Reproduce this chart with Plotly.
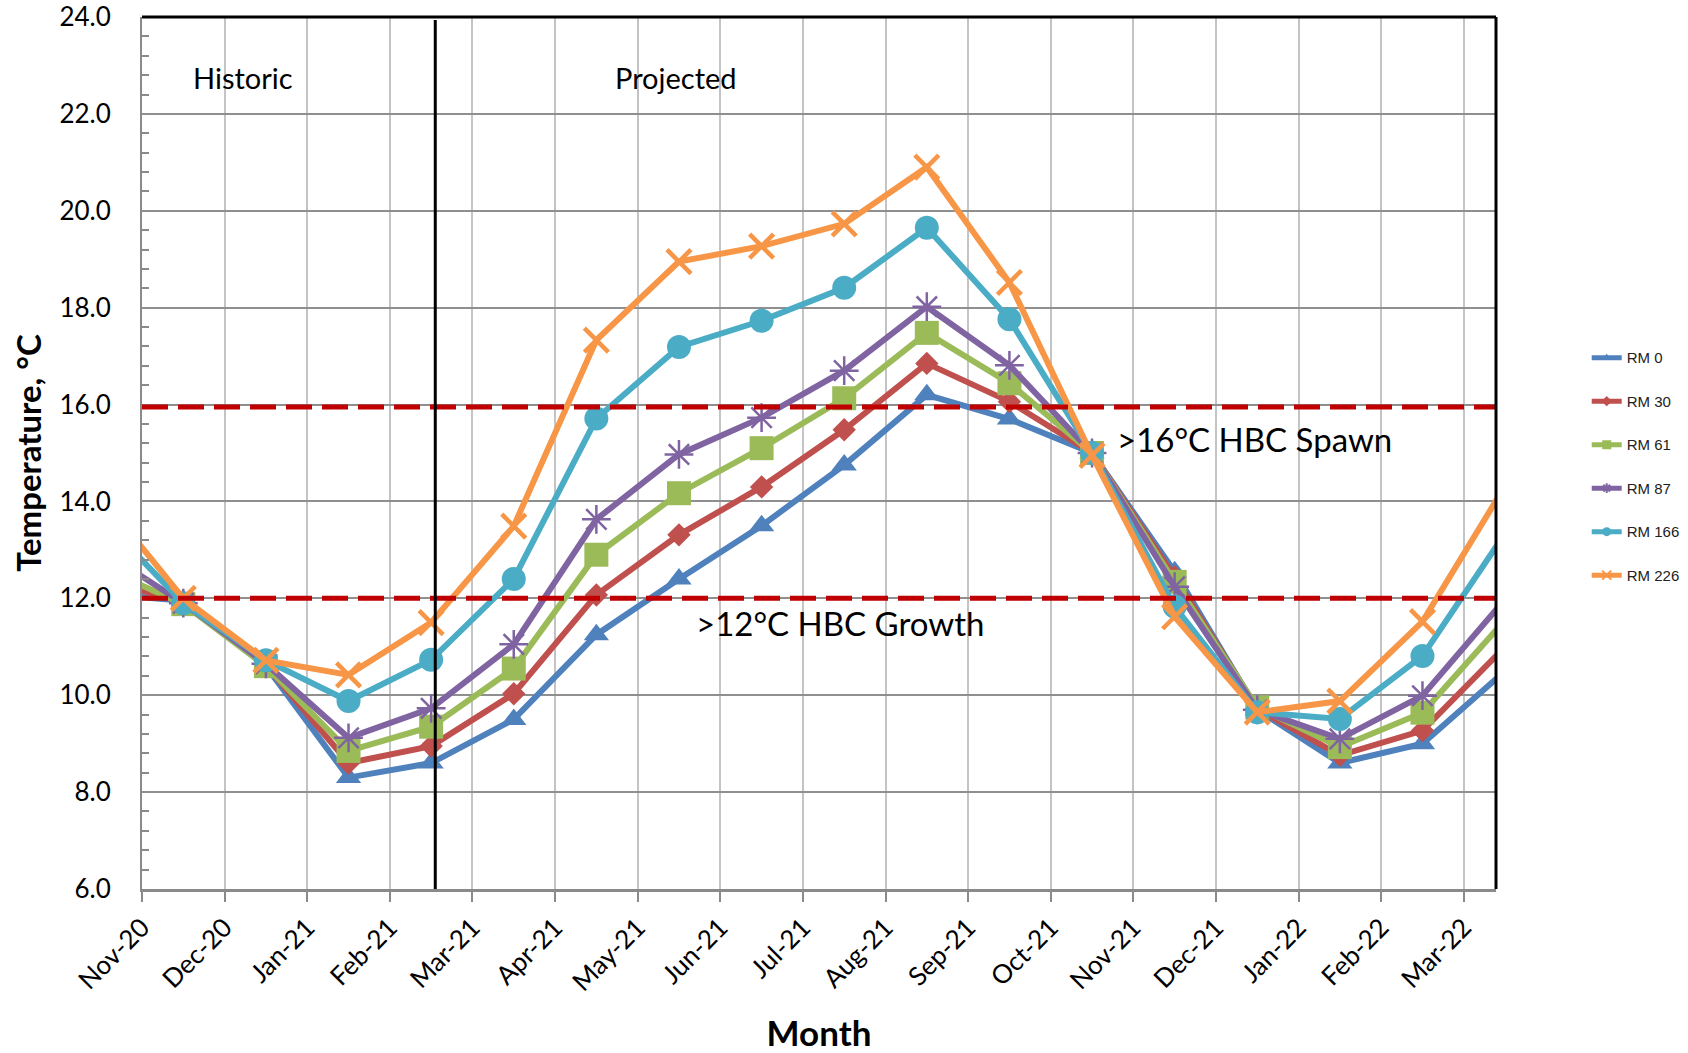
import plotly.graph_objects as go

# ---- data ----
tick_labels = ["Nov-20", "Dec-20", "Jan-21", "Feb-21", "Mar-21", "Apr-21", "May-21", "Jun-21",
               "Jul-21", "Aug-21", "Sep-21", "Oct-21", "Nov-21", "Dec-21", "Jan-22", "Feb-22", "Mar-22"]
point_months = ["Oct-20"] + tick_labels  # monthly mid-point values

rm0 = [12.1, 11.95, 10.6, 8.3, 8.6, 9.5, 11.25, 12.4, 13.5, 14.75, 16.2, 15.7, 15.0, 12.55, 9.7, 8.6, 9.0, 10.5]
rm30 = [12.4, 11.92, 10.62, 8.6, 8.95, 10.03, 12.07, 13.31, 14.3, 15.48, 16.85, 16.06, 15.0, 12.44, 9.72, 8.76, 9.27, 11.0]
rm61 = [12.65, 11.88, 10.6, 8.85, 9.35, 10.55, 12.9, 14.17, 15.1, 16.13, 17.48, 16.44, 15.0, 12.34, 9.75, 8.93, 9.64, 11.55]
rm87 = [13.0, 11.9, 10.65, 9.12, 9.73, 11.05, 13.63, 14.97, 15.73, 16.7, 18.02, 16.81, 15.0, 12.24, 9.7, 9.1, 9.99, 11.98]
rm166 = [13.68, 11.9, 10.72, 9.88, 10.73, 12.4, 15.71, 17.19, 17.73, 18.41, 19.65, 17.76, 15.0, 11.83, 9.65, 9.51, 10.81, 13.34]
rm226 = [14.1, 12.0, 10.72, 10.42, 11.5, 13.49, 17.33, 18.95, 19.27, 19.73, 20.9, 18.52, 14.95, 11.62, 9.65, 9.88, 11.52, 14.32]

series_names = ["RM 0", "RM 30", "RM 61", "RM 87", "RM 166", "RM 226"]
series_values = [rm0, rm30, rm61, rm87, rm166, rm226]

spawn_threshold = 15.95
growth_threshold = 12.0
divider_month = 3.55  # boundary between historic and projected (mid Feb-21)

# ---- styles ----
colors = ["#4F81BD", "#C0504D", "#9BBB59", "#8064A2", "#4BACC6", "#F79646"]
symbols = ["triangle-up", "diamond", "square", "asterisk-open", "circle", "x-thin-open"]
sizes = [22, 18, 24, 24, 24, 24]
FONT = "Lato"

x_min, x_max = 0, 16.39

# x positions: each month value sits at the middle of its month slot
x_pos = [i - 0.5 for i in range(len(point_months))]

fig = go.Figure()
for name, vals, c, sym, sz in zip(series_names, series_values, colors, symbols, sizes):
    mline = dict(width=0)
    if sym == "asterisk-open":
        mline = dict(width=2.5, color=c)
    if sym == "x-thin-open":
        mline = dict(width=4.5, color=c)
    # hide markers of points that lie outside the visible axis range (only their lines show)
    msize = [sz if x_min <= xp <= x_max else 0 for xp in x_pos]
    fig.add_trace(go.Scatter(
        x=x_pos, y=vals, mode="lines+markers", name=name, showlegend=False,
        line=dict(color=c, width=6),
        marker=dict(symbol=sym, size=msize, color=c, line=mline, opacity=1),
        cliponaxis=True,
        customdata=point_months,
        hovertemplate="%{customdata}: %{y:.1f}°C<extra>" + name + "</extra>",
    ))

# legend entries (small markers like the original)
leg_sizes = [8, 8, 9, 8, 9, 9]
for i, (name, c, sym) in enumerate(zip(series_names, colors, symbols)):
    mline = dict(width=0)
    if sym == "asterisk-open":
        mline = dict(width=2, color=c)
    if sym == "x-thin-open":
        mline = dict(width=2, color=c)
    fig.add_trace(go.Scatter(
        x=[None], y=[None], mode="lines+markers", name=name, legendgroup=f"g{i}",
        line=dict(color=c, width=5),
        marker=dict(symbol=sym, size=leg_sizes[i], color=c, line=mline, opacity=1),
    ))

shapes = [
    # threshold lines
    dict(type="line", xref="paper", x0=0, x1=1, yref="y", y0=spawn_threshold, y1=spawn_threshold,
         line=dict(color="#C00000", width=5, dash="26px,10px"), layer="above"),
    dict(type="line", xref="paper", x0=0, x1=1, yref="y", y0=growth_threshold, y1=growth_threshold,
         line=dict(color="#C00000", width=5, dash="26px,10px"), layer="above"),
    # historic / projected divider
    dict(type="line", xref="x", x0=divider_month, x1=divider_month, yref="y", y0=6, y1=23.94,
         line=dict(color="black", width=3), layer="above"),
    # black top and right borders
    dict(type="line", xref="paper", x0=0, x1=1, yref="paper", y0=1, y1=1,
         line=dict(color="black", width=3), layer="above"),
    dict(type="line", xref="paper", x0=1, x1=1, yref="paper", y0=0, y1=1,
         line=dict(color="black", width=3), layer="above"),
]

annotations = [
    dict(text="Historic", x=1.22, y=22.75, xref="x", yref="y", showarrow=False,
         font=dict(family=FONT, size=29, color="black")),
    dict(text="Projected", x=6.46, y=22.75, xref="x", yref="y", showarrow=False,
         font=dict(family=FONT, size=29, color="black")),
    dict(text=">16°C HBC Spawn", x=13.47, y=15.29, xref="x", yref="y", showarrow=False,
         font=dict(family=FONT, size=33, color="black")),
    dict(text=">12°C HBC Growth", x=8.45, y=11.49, xref="x", yref="y", showarrow=False,
         font=dict(family=FONT, size=33, color="black")),
]

fig.update_layout(
    width=1688, height=1053,
    margin=dict(l=142, r=192, t=17, b=164, autoexpand=False),
    paper_bgcolor="white", plot_bgcolor="white",
    font=dict(family=FONT, color="black"),
    shapes=shapes, annotations=annotations,
    legend=dict(x=1.067, y=0.628, xanchor="left", yanchor="top",
                font=dict(family="Liberation Sans", size=15, color="#222"),
                tracegroupgap=21, bgcolor="rgba(0,0,0,0)"),
    xaxis=dict(
        type="linear", range=[x_min, x_max],
        tickmode="array", tickvals=list(range(len(tick_labels))), ticktext=tick_labels,
        tickangle=-45, tickfont=dict(family=FONT, size=26, color="black"),
        showgrid=True, gridcolor="#c4c4c4", gridwidth=2,
        showline=True, linecolor="#8a8a8a", linewidth=3,
        ticks="outside", ticklen=10, tickwidth=2, tickcolor="#8a8a8a",
        zeroline=False,
        title=dict(text="<b>Month</b>", font=dict(family=FONT, size=35, color="black"), standoff=28),
    ),
    yaxis=dict(
        range=[6, 24], tick0=6, dtick=2, tickformat=".1f",
        tickfont=dict(family=FONT, size=26, color="black"),
        showgrid=True, gridcolor="#8f8f8f", gridwidth=2,
        showline=True, linecolor="#8a8a8a", linewidth=2,
        ticks="", ticklabelstandoff=24,
        minor=dict(dtick=0.4, ticks="inside", ticklen=7, tickwidth=2, tickcolor="#8a8a8a", showgrid=False),
        zeroline=False,
        title=dict(text="<b>Temperature, °C</b>", font=dict(family=FONT, size=33, color="black"), standoff=8),
    ),
)

fig.write_html("out.html")
